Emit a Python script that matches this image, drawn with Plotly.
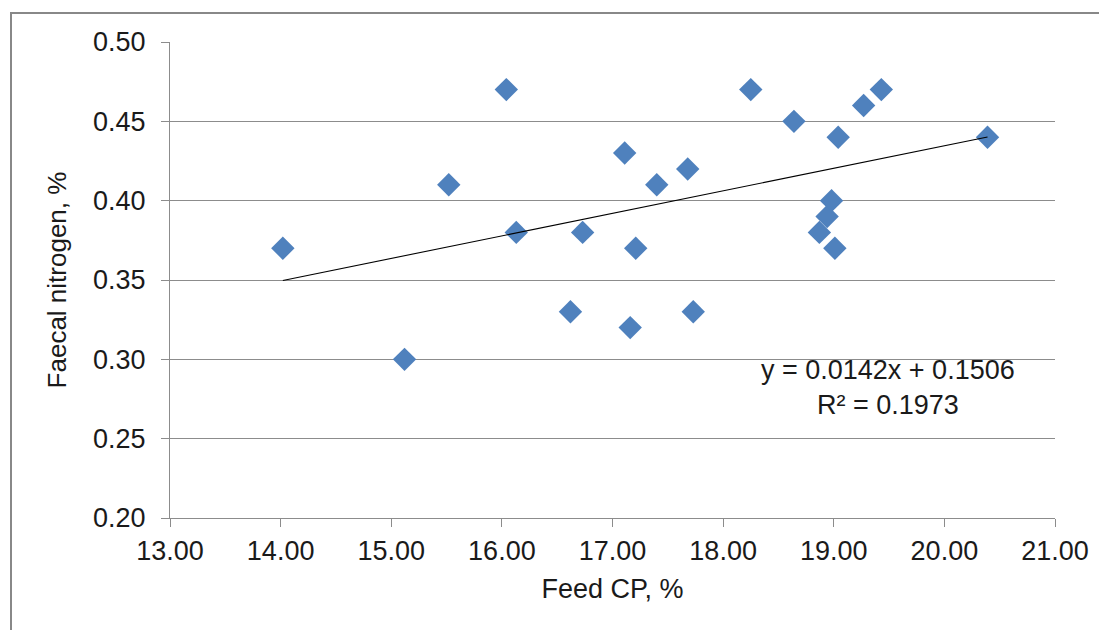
import plotly.graph_objects as go

# Data
feed_cp = [14.02, 15.12, 15.52, 16.04, 16.13, 16.62, 16.73, 17.11, 17.16, 17.21,
           17.40, 17.68, 17.73, 18.25, 18.64, 18.87, 18.94, 18.98, 19.01, 19.04,
           19.27, 19.43, 20.39]
faecal_n = [0.37, 0.30, 0.41, 0.47, 0.38, 0.33, 0.38, 0.43, 0.32, 0.37,
            0.41, 0.42, 0.33, 0.47, 0.45, 0.38, 0.39, 0.40, 0.37, 0.44,
            0.46, 0.47, 0.44]

slope = 0.0142
intercept = 0.1506
r_squared = 0.1973

x_ticks = [13, 14, 15, 16, 17, 18, 19, 20, 21]
y_ticks = [0.20, 0.25, 0.30, 0.35, 0.40, 0.45, 0.50]

FONT = "Liberation Sans, Arial, sans-serif"
GRID = "#8c8c8c"
TXT = "#1a1a1a"

trend_x = [min(feed_cp), max(feed_cp)]
trend_y = [slope * v + intercept for v in trend_x]

fig = go.Figure()
fig.add_trace(go.Scatter(
    x=feed_cp, y=faecal_n, mode="markers",
    marker=dict(symbol="diamond", size=18, color="#4F81BD", line=dict(width=0)),
    showlegend=False, hoverinfo="x+y"))
fig.add_trace(go.Scatter(
    x=trend_x, y=trend_y, mode="lines",
    line=dict(color="#000000", width=1.1),
    showlegend=False, hoverinfo="skip"))

# page body has an 8px margin; figure sized to end at window edge
OFF = 8
W, H = 1107 - OFF, 630 - OFF
L, R, T, B = 162, 52, 34, 112
pw, ph = W - L - R, H - T - B

def px_x(p):  # page pixel -> paper x
    return (p - OFF - L) / pw

def px_y(p):  # page pixel -> paper y
    return (H - B - (p - OFF)) / ph

fig.update_layout(
    width=W, height=H,
    margin=dict(l=L, r=R, t=T, b=B, pad=0),
    paper_bgcolor="white", plot_bgcolor="white",
    font=dict(family=FONT, size=26, color=TXT),
    xaxis=dict(
        range=[13, 21], tickvals=x_ticks,
        ticktext=[f"{v:.2f}" for v in x_ticks],
        showgrid=False, zeroline=False,
        showline=True, linecolor=GRID, linewidth=1,
        ticks="outside", ticklen=8, tickcolor=GRID, tickwidth=1,
        ticklabelstandoff=1,
        tickfont=dict(size=27, family=FONT, color=TXT),
        title=dict(text="Feed CP, %", font=dict(size=27, family=FONT, color=TXT),
                   standoff=13),
    ),
    yaxis=dict(
        range=[0.2, 0.5], tickvals=y_ticks,
        ticktext=[f"{v:.2f}" for v in y_ticks],
        showgrid=True, gridcolor=GRID, gridwidth=1,
        zeroline=False,
        showline=True, linecolor=GRID, linewidth=1,
        ticks="outside", ticklen=8, tickcolor=GRID, tickwidth=1,
        ticklabelstandoff=10,
        tickfont=dict(size=27, family=FONT, color=TXT),
        title=dict(text="Faecal nitrogen, %", font=dict(size=26, family=FONT, color=TXT),
                   standoff=18),
    ),
    shapes=[dict(
        type="rect", xref="paper", yref="paper",
        x0=px_x(11), x1=px_x(1107 + 20), y0=px_y(630 + 20), y1=px_y(13),
        line=dict(color="#888888", width=2), fillcolor="rgba(0,0,0,0)", layer="below")],
    annotations=[dict(
        xref="paper", yref="paper", x=px_x(888), y=px_y(387),
        text=f"y = {slope}x + {intercept}<br>R² = {r_squared}",
        showarrow=False, align="center", xanchor="center", yanchor="middle",
        font=dict(size=27, family=FONT, color=TXT))],
)

fig.write_html("out.html")
